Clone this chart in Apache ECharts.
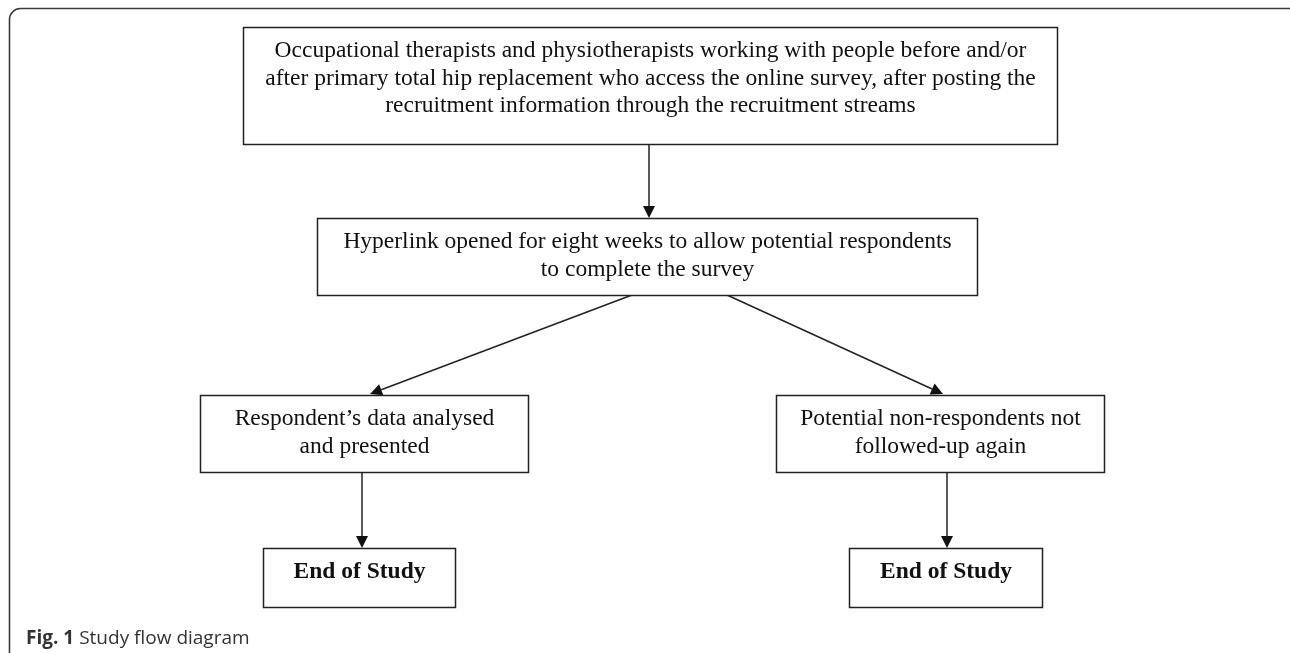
<!DOCTYPE html>
<html>
<head>
<meta charset="utf-8">
<script src="https://cdn.jsdelivr.net/npm/echarts@6/dist/echarts.min.js"></script>
<style>
html,body{margin:0;padding:0;background:#fff;}
#main{width:1290px;height:653px;}
</style>
</head>
<body>
<div id="main"></div>
<script>
// Node texts of the flow diagram
const nodeLabels = [
  "Occupational therapists and physiotherapists working with people before and/or\nafter primary total hip replacement who access the online survey, after posting the\nrecruitment information through the recruitment streams",
  "Hyperlink opened for eight weeks to allow potential respondents\nto complete the survey",
  "Respondent\u2019s data analysed\nand presented",
  "Potential non-respondents not\nfollowed-up again",
  "End of Study",
  "End of Study"
];
const nodeBold = [false, false, false, false, true, true];
// Box corners in diagram units [x0, y0, x1, y1]
const nodeBoxes = [
  [243, 26.5, 1057, 143],
  [317, 218, 977, 295],
  [200, 395, 528, 472],
  [776, 395, 1104, 472],
  [263, 548, 455, 607],
  [849, 548, 1042, 607]
];
// Arrows: start and end points in diagram units
const arrowFrom = [[649, 143], [632, 295], [727, 295], [362, 472], [947, 472]];
const arrowTo   = [[649, 218], [370, 394], [943, 394], [362, 548], [947, 548]];
const captionBold = "Fig. 1";
const captionText = "Study flow diagram";

const chart = echarts.init(document.getElementById('main'), null, {renderer: 'canvas'});

const boxData = nodeBoxes.map((b, i) => [b[0], b[1], b[2], b[3], i]);
const arrowData = arrowFrom.map((p, i) => [p[0], p[1], arrowTo[i][0], arrowTo[i][1]]);

const option = {
  backgroundColor: '#ffffff',
  animation: false,
  title: {
    text: '{b|' + captionBold + '} {n|' + captionText + '}',
    left: 21,
    top: 624,
    textStyle: {
      rich: {
        b: {fontFamily: 'Open Sans', fontWeight: 'bold', fontSize: 19, color: '#333'},
        n: {fontFamily: 'Open Sans', fontWeight: 'normal', fontSize: 19, color: '#333'}
      }
    }
  },
  graphic: [{
    type: 'rect',
    z: -1,
    shape: {x: 9.5, y: 8.5, width: 1400, height: 700, r: 11},
    style: {fill: 'none', stroke: '#3a3a3a', lineWidth: 1.6}
  }],
  grid: {left: 0, right: 0, top: 0, bottom: 0},
  xAxis: {type: 'value', min: 0, max: 1290, show: false},
  yAxis: {type: 'value', min: 0, max: 653, inverse: true, show: false},
  series: [
    {
      type: 'custom',
      coordinateSystem: 'cartesian2d',
      data: arrowData,
      silent: true,
      z: 2,
      renderItem: function (params, api) {
        const a = api.coord([api.value(0), api.value(1)]);
        const b = api.coord([api.value(2), api.value(3)]);
        const dx = b[0] - a[0], dy = b[1] - a[1];
        const len = Math.sqrt(dx * dx + dy * dy);
        const ux = dx / len, uy = dy / len;
        const hl = 12, hw = 6;
        const bx = b[0] - ux * hl, by = b[1] - uy * hl;
        return {
          type: 'group',
          children: [
            {type: 'line', shape: {x1: a[0], y1: a[1], x2: bx, y2: by},
             style: {stroke: '#222', lineWidth: 1.5}},
            {type: 'polygon', shape: {points: [
              [b[0], b[1]],
              [bx - uy * hw, by + ux * hw],
              [bx + uy * hw, by - ux * hw]
            ]}, style: {fill: '#111'}}
          ]
        };
      }
    },
    {
      type: 'custom',
      coordinateSystem: 'cartesian2d',
      data: boxData,
      silent: true,
      z: 3,
      renderItem: function (params, api) {
        const p0 = api.coord([api.value(0), api.value(1)]);
        const p1 = api.coord([api.value(2), api.value(3)]);
        const idx = api.value(4);
        const x = Math.round(p0[0]) + 0.5, y = Math.round(p0[1]) + 0.5;
        const w = Math.round(p1[0] - p0[0]), h = Math.round(p1[1] - p0[1]);
        return {
          type: 'group',
          children: [
            {type: 'rect', shape: {x: x, y: y, width: w, height: h},
             style: {fill: '#fff', stroke: '#222', lineWidth: 1.5}},
            {type: 'text', style: {
              text: nodeLabels[idx],
              x: x + w / 2,
              y: y + 10,
              align: 'center',
              verticalAlign: 'top',
              fontFamily: 'Liberation Serif',
              fontWeight: nodeBold[idx] ? 'bold' : 'normal',
              fontSize: 23.5,
              lineHeight: 27.5,
              fill: '#111'
            }}
          ]
        };
      }
    }
  ]
};
chart.setOption(option);
</script>
</body>
</html>
